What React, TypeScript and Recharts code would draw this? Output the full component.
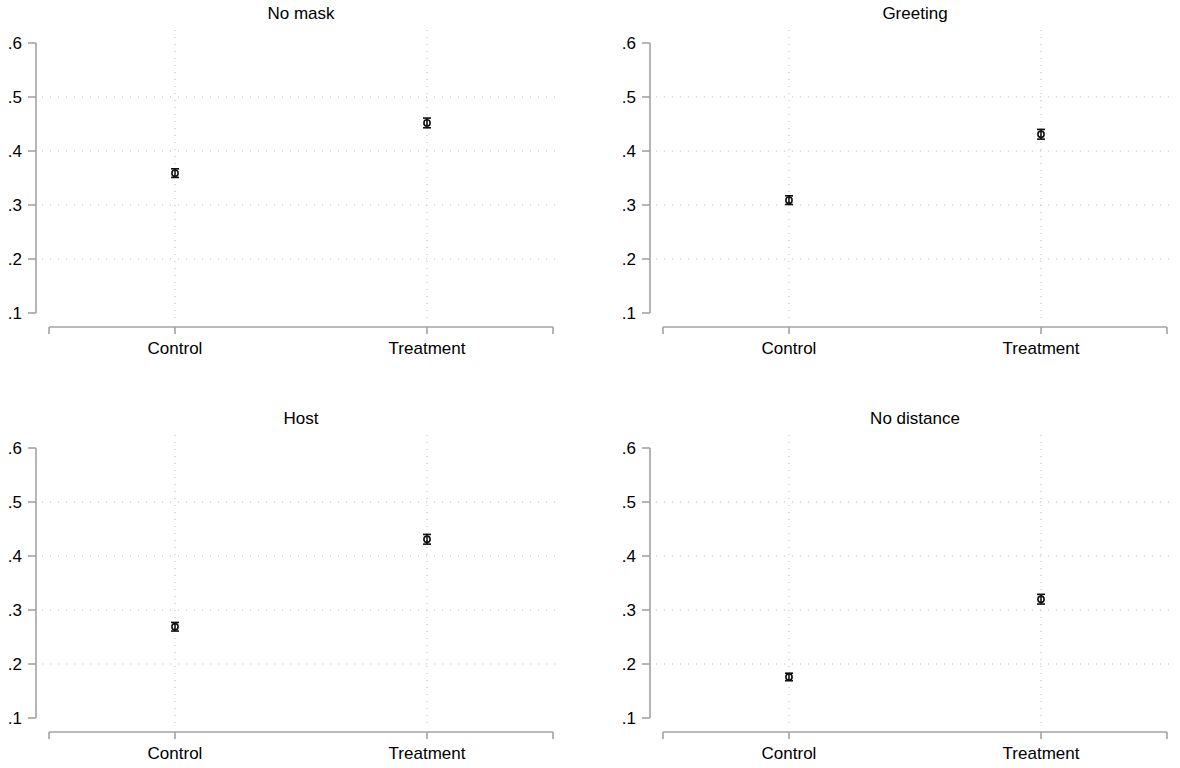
import React from 'react';
import { ComposedChart, Scatter, ErrorBar, XAxis, YAxis, CartesianGrid } from 'recharts';

// Group labels on the x axis and the y-axis tick values
const categories = ['Control', 'Treatment'];
const yTicks = [0.1, 0.2, 0.3, 0.4, 0.5, 0.6];
const gridYValues = [0.2, 0.3, 0.4, 0.5];
const xTicks = [0.5, 1, 2, 2.5];

// Panel titles
const panelTitles = ['No mask', 'Greeting', 'Host', 'No distance'];

// Mean share per group and half-width of the confidence interval
const noMaskMeans = [0.359, 0.452];
const noMaskErrors = [0.008, 0.009];
const greetingMeans = [0.309, 0.431];
const greetingErrors = [0.008, 0.009];
const hostMeans = [0.269, 0.431];
const hostErrors = [0.008, 0.009];
const noDistanceMeans = [0.176, 0.32];
const noDistanceErrors = [0.007, 0.009];

const FONT = '"Liberation Sans", Arial, Helvetica, sans-serif';
const AXIS = '#a3a3a3';
const GRID = '#b8b8b8';
const INK = '#111';

const hLine = (p: any) => (
  <line
    key={p.key}
    x1={p.x1 - 7}
    x2={p.x2 + 7}
    y1={p.y1}
    y2={p.y2}
    stroke={GRID}
    strokeWidth={1}
    strokeDasharray="1 7"
  />
);

const vLine = (p: any) => (
  <line
    key={p.key}
    x1={p.x1}
    x2={p.x2}
    y1={p.y1 - 13}
    y2={p.y2 + 7}
    stroke={GRID}
    strokeWidth={1}
    strokeDasharray="1 6"
  />
);

const Marker = (p: any) => (
  <circle cx={p.cx} cy={p.cy} r={3.1} fill="none" stroke={INK} strokeWidth={1.6} />
);

type PanelProps = {
  title: string;
  means: number[];
  errors: number[];
  left: number;
  top: number;
};

function Panel({ title, means, errors, left, top }: PanelProps) {
  const data = categories.map((name, i) => ({ name, x: i + 1, y: means[i], err: errors[i] }));
  const tickStyle = { fill: '#000', fontSize: 17, fontFamily: FONT };
  return (
    <div style={{ position: 'absolute', left, top, width: 590, height: 380 }}>
      <div
        style={{
          position: 'absolute',
          left: 42,
          width: 518,
          top: 4,
          lineHeight: '20px',
          textAlign: 'center',
          fontSize: 17,
          fontFamily: FONT,
          color: '#000',
        }}
      >
        {title}
      </div>
      <ComposedChart
        width={590}
        height={380}
        data={data}
        margin={{ top: 43, right: 37, bottom: 13, left: 0 }}
      >
        {/* empty axes that keep the drawn axes apart from the plot region */}
        <XAxis xAxisId="gap" type="number" domain={[0, 1]} height={14} axisLine={false} tickLine={false} tick={false} />
        <YAxis yAxisId="gap" type="number" domain={[0, 1]} width={13} axisLine={false} tickLine={false} tick={false} />
        <XAxis
          xAxisId="main"
          dataKey="x"
          type="number"
          domain={[0.5, 2.5]}
          ticks={xTicks}
          allowDataOverflow
          height={40}
          tickSize={7}
          tickMargin={8}
          tickFormatter={(v: number) => categories[v - 1] ?? ''}
          axisLine={{ stroke: AXIS, strokeWidth: 1.6 }}
          tickLine={{ stroke: AXIS, strokeWidth: 1.6 }}
          tick={tickStyle}
          interval={0}
        />
        <YAxis
          yAxisId="main"
          dataKey="y"
          type="number"
          domain={[0.1, 0.6]}
          ticks={yTicks}
          allowDataOverflow
          width={36}
          tickSize={8}
          tickMargin={6}
          tickFormatter={(v: number) => v.toFixed(1).replace(/^0/, '')}
          axisLine={{ stroke: AXIS, strokeWidth: 1.6 }}
          tickLine={{ stroke: AXIS, strokeWidth: 1.6 }}
          tick={tickStyle}
          interval={0}
        />
        <CartesianGrid
          xAxisId="main"
          yAxisId="main"
          horizontalValues={gridYValues}
          verticalValues={[1, 2]}
          horizontal={hLine}
          vertical={vLine}
        />
        <Scatter
          xAxisId="main"
          yAxisId="main"
          dataKey="y"
          shape={Marker}
          isAnimationActive={false}
        >
          <ErrorBar dataKey="err" direction="y" width={4} stroke={INK} strokeWidth={1.6} />
        </Scatter>
      </ComposedChart>
    </div>
  );
}

export default function App() {
  return (
    <div
      style={{
        position: 'absolute',
        left: 0,
        top: 0,
        width: 1180,
        height: 768,
        background: '#fff',
      }}
    >
      <Panel title={panelTitles[0]} means={noMaskMeans} errors={noMaskErrors} left={0} top={0} />
      <Panel title={panelTitles[1]} means={greetingMeans} errors={greetingErrors} left={614} top={0} />
      <Panel title={panelTitles[2]} means={hostMeans} errors={hostErrors} left={0} top={405} />
      <Panel title={panelTitles[3]} means={noDistanceMeans} errors={noDistanceErrors} left={614} top={405} />
    </div>
  );
}
